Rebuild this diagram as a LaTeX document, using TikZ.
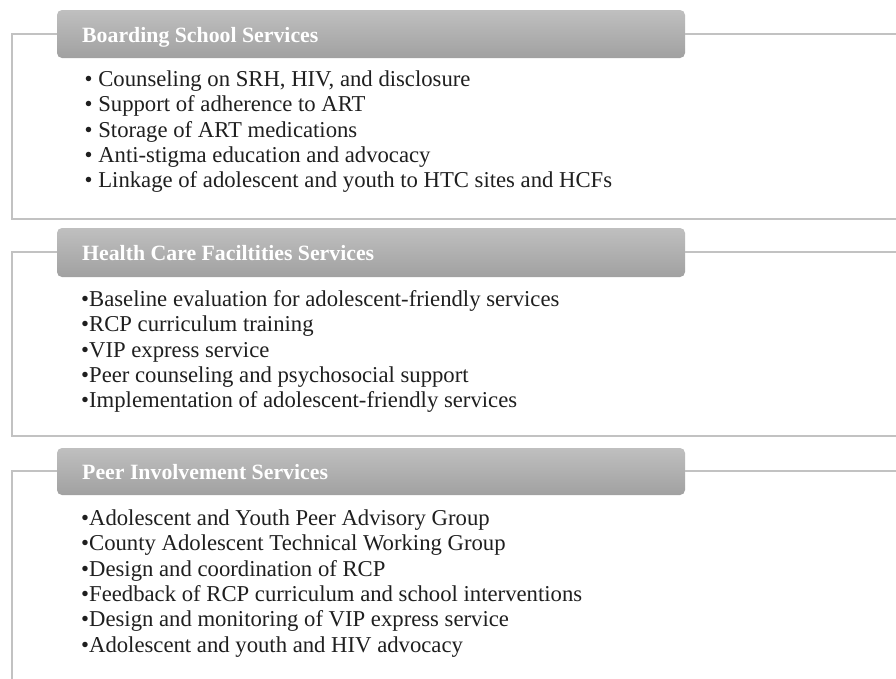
\documentclass[tikz,border=0pt]{standalone}
\usepackage{fontspec}
\setmainfont{Liberation Serif}
\begin{document}
\begin{tikzpicture}[x=1pt,y=-1pt,
  frameline/.style={draw=black!24, line width=1.4pt},
  headbox/.style={rounded corners=5pt, top color=black!25, bottom color=black!37, draw=none},
  headtext/.style={anchor=base west, inner sep=0pt, text=white, font=\fontsize{21.8}{25}\selectfont\bfseries},
  itemtext/.style={anchor=base west, inner sep=0pt, text=black!88, font=\fontsize{22.7}{25}\selectfont}]
\useasboundingbox (0,0) rectangle (896,678);
\fill[white] (0,0) rectangle (896,678);

% ---------- Section 1 ----------
\path[headbox] (57,10) rectangle (685,58);
\coordinate (h1w) at (57,34);
\coordinate (h1e) at (685,34);
\coordinate (f1tl) at (12,34);
\coordinate (f1tr) at (896,34);
\coordinate (f1bl) at (12,219);
\coordinate (f1br) at (896,219);
\draw[frameline] (h1w) -- (f1tl) -- (f1bl) -- (f1br);
\draw[frameline] (h1e) -- (f1tr);
\node[headtext] (h1) at (82,42.5) {Boarding School Services};
\node[itemtext] (a1) at (84.5,86.5) {• Counseling on SRH, HIV, and disclosure};
\node[itemtext] (a2) at (84.5,111.8) {• Support of adherence to ART};
\node[itemtext] (a3) at (84.5,137.1) {• Storage of ART medications};
\node[itemtext] (a4) at (84.5,162.4) {• Anti-stigma education and advocacy};
\node[itemtext] (a5) at (84.5,187.7) {• Linkage of adolescent and youth to HTC sites and HCFs};

% ---------- Section 2 ----------
\path[headbox] (57,228) rectangle (685,277);
\coordinate (h2w) at (57,252);
\coordinate (h2e) at (685,252);
\coordinate (f2tl) at (12,252);
\coordinate (f2tr) at (896,252);
\coordinate (f2bl) at (12,436);
\coordinate (f2br) at (896,436);
\draw[frameline] (h2w) -- (f2tl) -- (f2bl) -- (f2br);
\draw[frameline] (h2e) -- (f2tr);
\node[headtext] (h2) at (82,260.5) {Health Care Faciltities Services};
\node[itemtext] (b1) at (81,306.5) {•Baseline evaluation for adolescent-friendly services};
\node[itemtext] (b2) at (81,331.8) {•RCP curriculum training};
\node[itemtext] (b3) at (81,357.1) {•VIP express service};
\node[itemtext] (b4) at (81,382.4) {•Peer counseling and psychosocial support};
\node[itemtext] (b5) at (81,407.7) {•Implementation of adolescent-friendly services};

% ---------- Section 3 ----------
\path[headbox] (57,448) rectangle (685,495);
\coordinate (h3w) at (57,471);
\coordinate (h3e) at (685,471);
\coordinate (f3tl) at (12,471);
\coordinate (f3tr) at (896,471);
\coordinate (f3bl) at (12,680);
\draw[frameline] (h3w) -- (f3tl) -- (f3bl);
\draw[frameline] (h3e) -- (f3tr);
\node[headtext] (h3) at (82,479.5) {Peer Involvement Services};
\node[itemtext] (c1) at (81,525.5) {•Adolescent and Youth Peer Advisory Group};
\node[itemtext] (c2) at (81,550.8) {•County Adolescent Technical Working Group};
\node[itemtext] (c3) at (81,576.1) {•Design and coordination of RCP};
\node[itemtext] (c4) at (81,601.4) {•Feedback of RCP curriculum and school interventions};
\node[itemtext] (c5) at (81,626.7) {•Design and monitoring of VIP express service};
\node[itemtext] (c6) at (81,652.0) {•Adolescent and youth and HIV advocacy};
\end{tikzpicture}
\end{document}
